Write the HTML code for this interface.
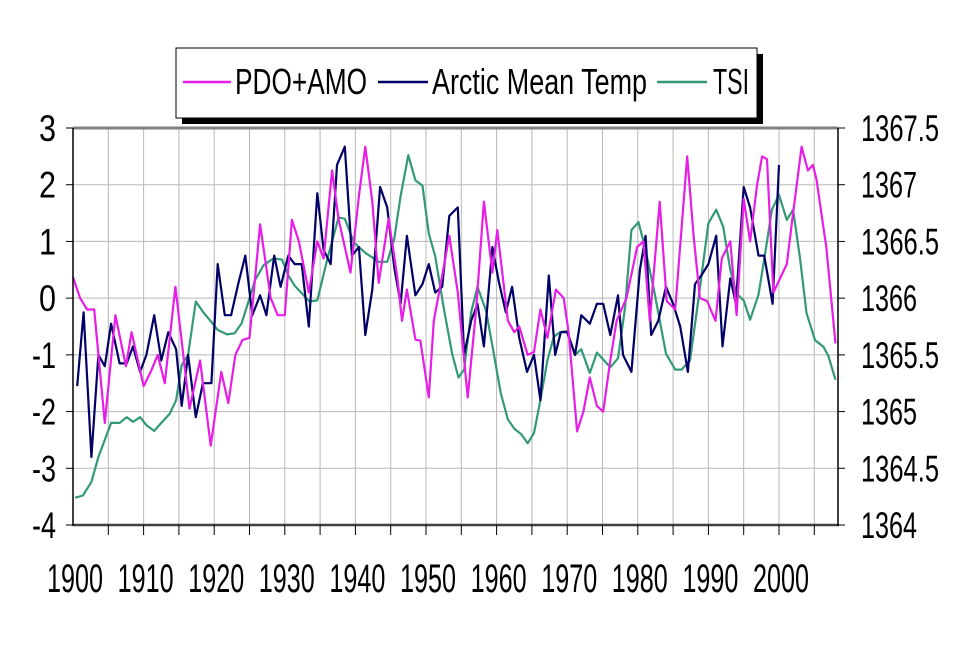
<!DOCTYPE html>
<html><head><meta charset="utf-8"><style>
html,body{margin:0;padding:0;background:#fff;}
svg{display:block;}
text{font-family:"Liberation Sans Narrow","Liberation Sans",sans-serif;fill:#000;}
</style></head><body>
<svg id="chart" width="960" height="646" viewBox="0 0 960 646" xmlns="http://www.w3.org/2000/svg">
  <rect x="0" y="0" width="960" height="646" fill="#fff"/>
  <g id="grid"></g>
  <g id="series"></g>
  <g id="axes"></g>
  <g>
    <rect x="182" y="54" width="581" height="70" fill="#000"/>
    <rect x="176" y="48" width="581" height="70" fill="#fff" stroke="#000" stroke-width="1"/>
    <line x1="183" y1="82" x2="231" y2="82" stroke="#e61ee6" stroke-width="2.5"/>
    <text x="235" y="94" font-size="36" textLength="132" lengthAdjust="spacingAndGlyphs">PDO+AMO</text>
    <line x1="378" y1="82" x2="428" y2="82" stroke="#000066" stroke-width="2.5"/>
    <text x="432" y="94" font-size="36" textLength="215" lengthAdjust="spacingAndGlyphs">Arctic Mean Temp</text>
    <line x1="657" y1="82" x2="707" y2="82" stroke="#339977" stroke-width="2.5"/>
    <text x="713" y="94" font-size="36" textLength="36" lengthAdjust="spacingAndGlyphs">TSI</text>
  </g>
</svg>
<script>
const pdoYears=[1900,1901,1902,1903,1904.5,1906,1907.5,1908.3,1910,1911,1912,1913,1914.5,1916.5,1918,1919.5,1921,1922,1923,1924,1925,1926.5,1928,1929,1930,1931,1932,1933.4,1934.6,1935.5,1936.7,1937.6,1939.3,1940.5,1941.4,1942.4,1943.3,1944.7,1945.9,1946.6,1947.3,1948.5,1949.2,1950.4,1951.1,1952.3,1953.3,1954.5,1955.9,1957.1,1958.2,1959.4,1960.1,1961.6,1962.5,1963.2,1964.4,1965.3,1966.2,1967.2,1968.4,1969.5,1970.2,1971.4,1972.3,1973.2,1974.2,1975.1,1976.1,1977,1978.4,1979.9,1980.8,1981.7,1983.1,1984.1,1985.3,1987,1987.9,1988.8,1989.8,1991,1991.9,1993.1,1994,1995,1995.9,1996.9,1997.6,1998.3,1999.2,2001.1,2002,2003.2,2004.1,2004.8,2005.3,2006.7,2008];
const pdoValues=[0.37,0.0,-0.2,-0.2,-2.2,-0.3,-1.2,-0.6,-1.55,-1.3,-1.0,-1.5,0.2,-1.95,-1.1,-2.6,-1.3,-1.85,-1.0,-0.74,-0.7,1.3,0.0,-0.3,-0.3,1.38,1.0,0.1,1.0,0.7,2.25,1.4,0.45,1.8,2.67,1.7,0.27,1.4,0.4,-0.4,0.15,-0.73,-0.75,-1.75,-0.4,0.4,1.1,0.1,-1.75,-0.2,1.7,0.45,1.2,-0.4,-0.6,-0.5,-1.0,-0.95,-0.2,-0.7,0.15,0.0,-0.6,-2.35,-2.0,-1.4,-1.9,-2.0,-1.1,-0.4,0.0,0.9,1.0,-0.4,1.7,-0.05,-0.2,2.5,1.1,0.0,-0.05,-0.4,0.7,1.0,-0.3,1.75,1.0,2.0,2.5,2.45,0.1,0.6,1.5,2.67,2.25,2.35,2.1,0.9,-0.8];
const arcticYears=[1900.6,1901.5,1902.6,1903.6,1904.5,1905.4,1906.6,1907.6,1908.5,1909.5,1910.4,1911.5,1912.5,1913.5,1914.6,1915.4,1916.3,1917.4,1918.4,1919.6,1920.5,1921.5,1922.4,1923.4,1924.4,1925.4,1926.5,1927.4,1928.5,1929.4,1930.5,1931.4,1932.4,1933.4,1934.6,1935.5,1936.5,1937.4,1938.5,1939.5,1940.5,1941.4,1942.4,1943.5,1944.5,1945.5,1946.4,1947.3,1948.5,1949.5,1950.4,1951.3,1952.3,1953.3,1954.5,1955.4,1956.4,1957.3,1958.2,1959.4,1960.3,1961.3,1962.2,1963.2,1964.3,1965.3,1966.2,1967.4,1968.3,1969.1,1970,1971.1,1972,1973.2,1974.2,1975.1,1976.1,1977.2,1977.9,1979.1,1980.3,1981.1,1981.9,1982.9,1984,1985,1986,1987.1,1988.1,1989,1990,1991.1,1992,1993.1,1993.9,1995,1995.9,1997.1,1997.9,1999.1,2000];
const arcticValues=[-1.55,-0.25,-2.8,-1.0,-1.2,-0.45,-1.15,-1.15,-0.85,-1.3,-1.0,-0.3,-1.1,-0.6,-0.9,-1.9,-1.0,-2.1,-1.5,-1.5,0.6,-0.3,-0.3,0.25,0.75,-0.3,0.05,-0.3,0.75,0.2,0.75,0.6,0.6,-0.5,1.85,0.85,0.6,2.35,2.67,0.75,0.9,-0.65,0.15,1.96,1.6,0.55,-0.1,1.1,0.05,0.25,0.6,0.1,0.2,1.45,1.6,-1.0,-0.4,-0.1,-0.85,0.9,0.3,-0.25,0.2,-0.7,-1.3,-1.0,-1.8,0.4,-1.0,-0.6,-0.6,-1.0,-0.3,-0.45,-0.1,-0.1,-0.65,0.05,-1.0,-1.3,0.5,1.1,-0.65,-0.4,0.2,-0.1,-0.5,-1.3,0.25,0.4,0.6,1.1,-0.85,0.35,-0.1,1.96,1.6,0.75,0.75,-0.1,2.35];
const tsiYears=[1900.3,1901.4,1902.6,1903.6,1904.5,1905.4,1906.6,1907.6,1908.5,1909.5,1910.4,1911.5,1912.5,1913.7,1914.6,1915.4,1916.3,1917.4,1918.4,1919.6,1920.5,1921.8,1922.9,1923.9,1924.9,1925.8,1927,1928.4,1929.6,1930.5,1931.4,1932.6,1933.5,1934.6,1936,1937.6,1938.5,1939.8,1941.4,1943.3,1944.5,1945.5,1946.4,1947.5,1948.5,1949.5,1950.4,1951.3,1952.5,1953.7,1954.6,1955.4,1956.4,1957.3,1958.5,1959.6,1960.6,1961.6,1962.5,1963.5,1964.4,1965.3,1966.2,1967.2,1968.1,1969,1970,1971.1,1972,1973.2,1974.2,1976.1,1977.2,1978.2,1979.1,1980.1,1981,1982.4,1984,1985.3,1986.2,1987.4,1988.5,1990,1991.1,1992.1,1993.1,1994,1995,1995.9,1997.1,1998.1,1999,2000,2001.1,2002,2003,2003.9,2005.1,2006.3,2007,2008];
const tsiValues=[1364.24,1364.26,1364.38,1364.6,1364.75,1364.9,1364.9,1364.95,1364.91,1364.95,1364.88,1364.83,1364.9,1364.98,1365.1,1365.41,1365.5,1365.97,1365.88,1365.79,1365.72,1365.68,1365.69,1365.78,1365.98,1366.16,1366.29,1366.35,1366.34,1366.2,1366.11,1366.03,1365.97,1365.98,1366.34,1366.71,1366.7,1366.49,1366.4,1366.32,1366.32,1366.52,1366.9,1367.26,1367.04,1366.99,1366.57,1366.37,1365.92,1365.51,1365.3,1365.37,1365.88,1366.1,1365.89,1365.51,1365.16,1364.93,1364.85,1364.8,1364.72,1364.81,1365.1,1365.45,1365.66,1365.7,1365.71,1365.5,1365.55,1365.34,1365.52,1365.39,1365.47,1365.92,1366.6,1366.67,1366.45,1366.04,1365.51,1365.37,1365.37,1365.45,1365.95,1366.66,1366.78,1366.63,1366.25,1366.04,1365.98,1365.81,1366.03,1366.42,1366.78,1366.91,1366.69,1366.78,1366.34,1365.87,1365.63,1365.57,1365.49,1365.28];
const leftTicks=["3","2","1","0","-1","-2","-3","-4"];
const rightTicks=["1367.5","1367","1366.5","1366","1365.5","1365","1364.5","1364"];
const xTickLabels=["1900","1910","1920","1930","1940","1950","1960","1970","1980","1990","2000"];

const PL=73,PR=838,PT=128,PB=525;
function xs(yr){return PL+(yr-1900)*7.06;}
function yl(v){return PT+(3-v)*(PB-PT)/7;}
function yr(v){return PT+(1367.5-v)*(PB-PT)/3.5;}
const NS="http://www.w3.org/2000/svg";
function mk(tag,attrs,parent){const e=document.createElementNS(NS,tag);for(const k in attrs)e.setAttribute(k,attrs[k]);parent.appendChild(e);return e;}
const grid=document.getElementById('grid'),ser=document.getElementById('series'),axes=document.getElementById('axes');

for(let i=1;i<7;i++){
  const l=mk('line',{x1:PL,x2:PR,y1:yl(3-i),y2:yl(3-i),stroke:'#b8b8b8','stroke-width':1},grid);
  
  
}
for(let yv=1905;yv<=2005;yv+=5){
  const l=mk('line',{x1:xs(yv),x2:xs(yv),y1:PT,y2:PB,stroke:'#b8b8b8','stroke-width':1},grid);
  
  
}

function drawLine(years,vals,scale,color,name){
  const pts=years.map((y,i)=>xs(y).toFixed(1)+','+scale(vals[i]).toFixed(1)).join(' ');
  const p=mk('polyline',{points:pts,fill:'none',stroke:color,'stroke-width':2.2,'stroke-linejoin':'round'},ser);
  
  
}
drawLine(tsiYears,tsiValues,yr,'#339977','tsi-line');
drawLine(arcticYears,arcticValues,yl,'#000066','arctic-mean-temp-line');
drawLine(pdoYears,pdoValues,yl,'#e61ee6','pdo-amo-line');

let e;
e=mk('line',{x1:PL,x2:PR,y1:PT,y2:PT,stroke:'#808080','stroke-width':3},axes);


e=mk('line',{x1:PL,x2:PR+1,y1:PB,y2:PB,stroke:'#404040','stroke-width':2.5},axes);


e=mk('line',{x1:PL,x2:PL,y1:PT,y2:PB+1,stroke:'#000','stroke-width':1.5},axes);


e=mk('line',{x1:PR,x2:PR,y1:PT,y2:PB+1,stroke:'#000','stroke-width':1.5},axes);



leftTicks.forEach((t,i)=>{
  const y=yl(3-i);
  const tk=mk('line',{x1:PL-7,x2:PL,y1:y,y2:y,stroke:'#000','stroke-width':1},axes);
  
  
  const w=t.length>1?24:17;
  const tx=mk('text',{x:56-w,y:y+13,'font-size':37,textLength:w,lengthAdjust:'spacingAndGlyphs'},axes);
  tx.textContent=t;
  
  
});
rightTicks.forEach((t,i)=>{
  const y=yr(1367.5-i*0.5);
  const tk=mk('line',{x1:PR,x2:PR+7,y1:y,y2:y,stroke:'#000','stroke-width':1},axes);
  
  
  const tx=mk('text',{x:861,y:y+13,'font-size':37,textLength:t.length>4?78:56,lengthAdjust:'spacingAndGlyphs'},axes);
  tx.textContent=t;
  
  
});
for(let yv=1905;yv<=2005;yv+=5){
  const tk=mk('line',{x1:xs(yv),x2:xs(yv),y1:PB,y2:PB+10,stroke:'#000','stroke-width':1},axes);
  
  
}
xTickLabels.forEach((t,i)=>{
  const x=xs(1900+i*10)+2;
  const tx=mk('text',{x:x-28,y:592,'font-size':40,textLength:56,lengthAdjust:'spacingAndGlyphs'},axes);
  tx.textContent=t;
  
  
});
</script>
</body></html>
